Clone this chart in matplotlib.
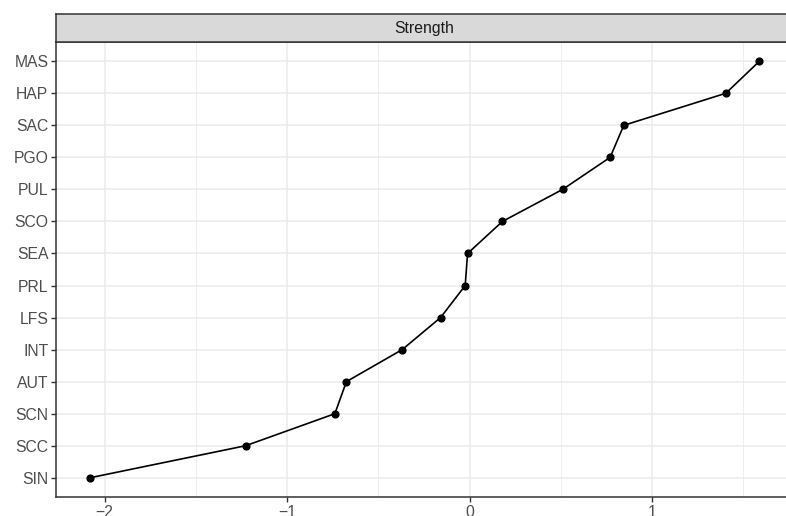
import matplotlib.pyplot as plt
from matplotlib.patches import Rectangle

# Strength score per category, bottom to top
categories = ["SIN", "SCC", "SCN", "AUT", "INT", "LFS", "PRL",
              "SEA", "SCO", "PUL", "PGO", "SAC", "HAP", "MAS"]
strength = [-2.08, -1.227, -0.738, -0.675, -0.369, -0.159, -0.024,
            -0.011, 0.18, 0.51, 0.77, 0.845, 1.404, 1.588]

x_ticks = [-2, -1, 0, 1]

plt.rcParams["font.family"] = ["Liberation Sans", "DejaVu Sans"]

fig = plt.figure(figsize=(7.86, 5.16), dpi=100)
W, H = 786, 516
left, right, top, bottom = 56, 793, 42, 497
ax = fig.add_axes([left / W, 1 - bottom / H, (right - left) / W, (bottom - top) / H])

ypos = list(range(1, len(categories) + 1))
ax.plot(strength, ypos, color="black", linewidth=1.2, zorder=3)
ax.scatter(strength, ypos, color="black", s=24, zorder=4)

ax.set_xlim(-2.266, 1.772)
ax.set_ylim(0.4, len(categories) + 0.6)
ax.set_xticks(x_ticks)
ax.set_xticklabels(["\u22122", "\u22121", "0", "1"])
ax.set_xticks([-1.5, -0.5, 0.5, 1.5], minor=True)
ax.set_yticks(ypos)
ax.set_yticklabels(categories)

ax.grid(which="major", color="#EBEBEB", linewidth=1.1, zorder=0)
ax.grid(which="minor", axis="x", color="#EBEBEB", linewidth=0.6, zorder=0)
ax.set_axisbelow(True)
ax.tick_params(which="major", length=3.5, width=1, color="#333333",
               labelcolor="#4D4D4D", labelsize=11.3, pad=2)
ax.tick_params(which="minor", length=0)
for side in ax.spines.values():
    side.set_color("#333333")
    side.set_linewidth(1.1)

# Facet strip above the panel
strip = fig.add_axes([left / W, 1 - top / H, (right - left) / W, 28 / H])
strip.set_xlim(0, 1)
strip.set_ylim(0, 1)
strip.add_patch(Rectangle((0, 0), 1, 1, facecolor="#D9D9D9", edgecolor="none"))
strip.set_xticks([])
strip.set_yticks([])
for side in strip.spines.values():
    side.set_color("#333333")
    side.set_linewidth(1.1)
strip.text(0.5, 0.5, "Strength", ha="center", va="center",
           fontsize=11.3, color="#1A1A1A")

fig.savefig("out.png", dpi=100)
